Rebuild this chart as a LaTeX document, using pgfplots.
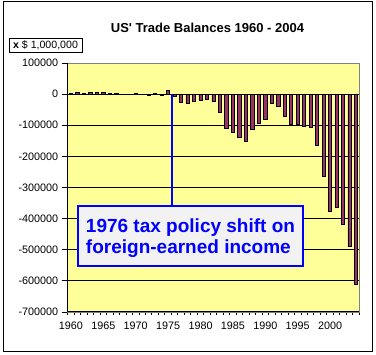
\documentclass[border=0pt]{standalone}
\usepackage{pgfplots}
\pgfplotsset{compat=1.18}
\usepackage{fontspec}
\setmainfont{Liberation Sans}[Ligatures=TeXOff]
\definecolor{plotbg}{HTML}{FFFF99}
\definecolor{barfill}{HTML}{993366}
\definecolor{boxfill}{HTML}{F2F2F2}
\definecolor{bordergray}{HTML}{808080}
\pgfplotstableread{
x val
0 3508
1 4195
2 3370
3 4210
4 6022
5 4664
6 2939
7 2604
8 250
9 91
10 2254
11 -1302
12 -5443
13 1900
14 -4293
15 12404
16 -6082
17 -27246
18 -29763
19 -24565
20 -19407
21 -16172
22 -24156
23 -57767
24 -109072
25 -121880
26 -138538
27 -151684
28 -114566
29 -93141
30 -80864
31 -31135
32 -39212
33 -70311
34 -98493
35 -96384
36 -104065
37 -108273
38 -166140
39 -263755
40 -377337
41 -362339
42 -418165
43 -490545
44 -611296
}\tradedata
\begin{document}
\begin{tikzpicture}
\useasboundingbox (0,0) rectangle (376bp,355bp);
\fill[white] (0,0) rectangle (376bp,355bp);
\draw[black, line width=1bp] (3bp,3bp) rectangle (372bp,353bp);
\begin{axis}[
  at={(67.7bp,43bp)}, anchor=south west, scale only axis,
  width=291.6bp, height=249bp,
  xmin=-0.5, xmax=44.5, ymin=-700000, ymax=100000,
  enlargelimits=false,
  axis background/.style={fill=plotbg},
  axis line style={draw=bordergray, line width=0.9bp},
  ymajorgrids, grid style={black, line width=0.9bp},
  ytick={-700000,-600000,...,100000},
  yticklabels={-700000,-600000,-500000,-400000,-300000,-200000,-100000,0,100000},
  scaled y ticks=false,
  xtick={0,5,...,40},
  xticklabels={1960,1965,1970,1975,1980,1985,1990,1995,2000},
  minor xtick={-0.5,0.5,...,44.5},
  tick align=outside,
  xtick pos=bottom, ytick pos=left,
  major tick length=6bp, minor tick length=3bp,
  every major x tick/.append style={draw=none},
  every tick/.append style={black, line width=0.9bp},
  every minor x tick/.append style={black, line width=0.9bp},
  tick label style={font=\fontsize{10.8bp}{13bp}\selectfont},
  clip=false,
]
\addplot[ybar, bar width=3.2bp, bar shift=0pt, fill=barfill, draw=black, line width=0.8bp] table[x=x, y=val] {\tradedata};
\end{axis}
\draw[black, line width=1bp] (67.7bp,292bp) -- (67.7bp,43bp) -- (359.3bp,43bp);
\draw[blue, line width=2bp] (171.7bp,261bp) -- (171.7bp,149bp);
\draw[blue, line width=2bp, fill=boxfill] (78bp,89bp) rectangle (303bp,149bp);
\node[align=left, text=blue, font=\fontsize{19bp}{21.7bp}\selectfont\bfseries, inner sep=0pt] at (190.5bp,116.8bp) {1976 tax policy shift on\\foreign-earned income};
\node[font=\fontsize{13bp}{15bp}\selectfont\bfseries] at (207.5bp,327bp) {US' Trade Balances 1960 - 2004};
\node[draw=black, line width=0.8bp, fill=white, minimum width=73bp, minimum height=14bp, inner sep=0pt, font=\fontsize{10.6bp}{12bp}\selectfont] at (45.5bp,310bp) {\textbf{x} \$ 1,000,000};
\end{tikzpicture}
\end{document}
